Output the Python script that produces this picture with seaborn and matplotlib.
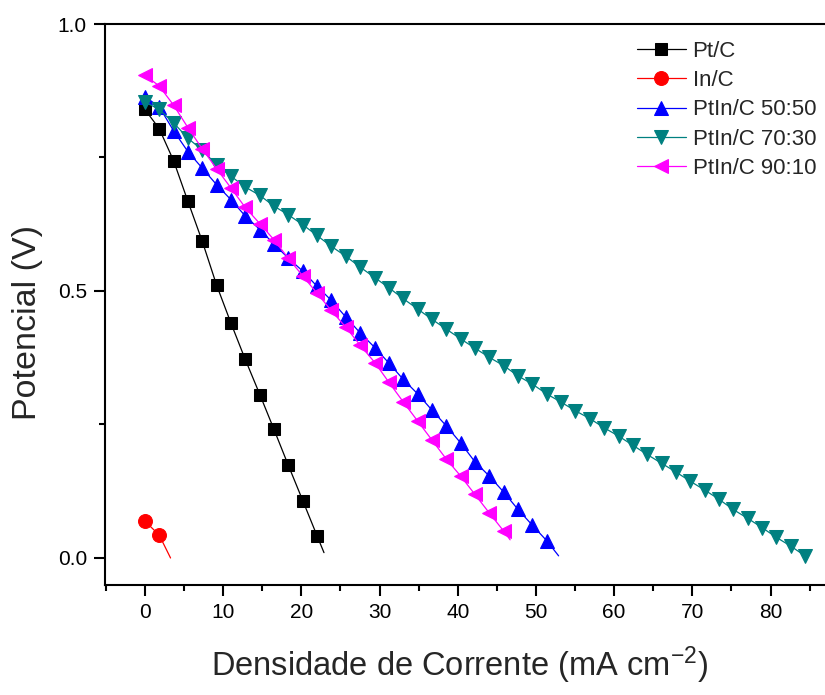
import matplotlib
matplotlib.use("Agg")
import matplotlib.pyplot as plt
from matplotlib.ticker import MultipleLocator, FormatStrFormatter
import seaborn as sns
import pandas as pd

# current density steps (mA cm^-2)
current = [0.0, 1.83, 3.67, 5.50, 7.34, 9.17, 11.0, 12.8, 14.7, 16.5, 18.3, 20.2,
           22.0, 23.8, 25.7, 27.5, 29.4, 31.2, 33.0, 34.9, 36.7, 38.5, 40.4, 42.2,
           44.0, 45.9, 47.7, 49.5, 51.4, 53.2, 55.0, 56.9, 58.7, 60.6, 62.4, 64.2,
           66.1, 67.9, 69.7, 71.6, 73.4, 75.2, 77.1, 78.9, 80.7, 82.6, 84.4]

labels = ["Pt/C", "In/C", "PtIn/C 50:50", "PtIn/C 70:30", "PtIn/C 90:10"]

pt_x = current[:13] + [22.9]
pt_y = [0.840, 0.804, 0.744, 0.668, 0.593, 0.511, 0.440, 0.373, 0.306, 0.241,
        0.175, 0.107, 0.042, 0.010]

in_x = [0.0, 1.83, 3.28]
in_y = [0.069, 0.043, 0.0]

p55_x = current[:29] + [52.9]
p55_y = [0.864, 0.845, 0.800, 0.761, 0.730, 0.699, 0.671, 0.641, 0.615, 0.588,
         0.562, 0.537, 0.509, 0.483, 0.451, 0.422, 0.394, 0.365, 0.335, 0.307,
         0.277, 0.248, 0.215, 0.180, 0.154, 0.123, 0.091, 0.062, 0.032, 0.004]

p73_x = current[:47]
p73_y = [0.854, 0.840, 0.815, 0.786, 0.764, 0.736, 0.715, 0.695, 0.679, 0.659,
         0.643, 0.624, 0.604, 0.584, 0.565, 0.545, 0.525, 0.506, 0.486, 0.466,
         0.447, 0.429, 0.410, 0.393, 0.376, 0.360, 0.341, 0.326, 0.307, 0.292,
         0.276, 0.261, 0.244, 0.228, 0.211, 0.194, 0.177, 0.161, 0.144, 0.127,
         0.110, 0.091, 0.074, 0.057, 0.039, 0.022, 0.004]

p91_x = current[:26] + [46.7]
p91_y = [0.904, 0.884, 0.848, 0.806, 0.766, 0.729, 0.693, 0.657, 0.626, 0.596,
         0.562, 0.528, 0.496, 0.464, 0.432, 0.399, 0.366, 0.329, 0.293, 0.256,
         0.221, 0.186, 0.153, 0.119, 0.085, 0.050, 0.034]

colors = ["#000000", "#ff0000", "#0000ff", "#008080", "#ff00ff"]
markers = ["s", "o", "^", "v", "<"]
msizes = [8.5, 10, 10, 10, 10]
# number of points carrying a marker (the line continues to the last point)
n_marked = [13, 2, 29, 47, 26]

sns.set_style("ticks")
plt.rcParams["font.family"] = ["Liberation Sans", "DejaVu Sans"]
plt.rcParams["mathtext.fontset"] = "custom"
plt.rcParams["mathtext.rm"] = "Liberation Sans"
plt.rcParams["mathtext.it"] = "Liberation Sans:italic"

fig = plt.figure(figsize=(8.25, 6.95), dpi=100)
ax = fig.add_axes([105 / 825, 1 - 585 / 695, (830 - 105) / 825, (585 - 24) / 695])

series = [(pt_x, pt_y), (in_x, in_y), (p55_x, p55_y), (p73_x, p73_y), (p91_x, p91_y)]
for (xs, ys), lab, c, m, ms, nm in zip(series, labels, colors, markers, msizes, n_marked):
    df = pd.DataFrame({"x": xs, "y": ys})
    sns.lineplot(data=df, x="x", y="y", ax=ax, color=c, marker=m, markersize=ms,
                 markeredgecolor=c, linewidth=0.9, label=lab,
                 markevery=list(range(nm)), sort=False)

ax.set_xlim(-5.1, 87.6)
ax.set_ylim(-0.0506, 1.0)
ax.xaxis.set_major_locator(MultipleLocator(10))
ax.xaxis.set_minor_locator(MultipleLocator(5))
ax.yaxis.set_major_locator(MultipleLocator(0.5))
ax.yaxis.set_minor_locator(MultipleLocator(0.25))
ax.yaxis.set_major_formatter(FormatStrFormatter("%.1f"))

for s in ["left", "bottom", "top"]:
    ax.spines[s].set_linewidth(1.5)
    ax.spines[s].set_color("black")
ax.spines["right"].set_visible(False)
ax.spines["top"].set_visible(True)

ax.tick_params(which="major", direction="out", length=8, width=1.5,
               labelsize=15, colors="black", pad=5)
ax.tick_params(which="minor", direction="out", length=4.5, width=1.5, colors="black")
ax.tick_params(top=False, right=False, which="both")

ax.set_xlabel("Densidade de Corrente (mA cm$^{-2}$)", fontsize=23.5)
ax.set_ylabel("Potencial (V)", fontsize=24.5)
ax.xaxis.set_label_coords((459.5 - 105) / 725, -(645 - 585) / 561)
ax.yaxis.set_label_coords((43 - 105) / 725, 1 - (322 - 24) / 561)

leg = ax.legend(loc="upper left", bbox_to_anchor=(637 / 825, 1 - 41 / 695),
                bbox_transform=fig.transFigure, frameon=False, fontsize=16,
                handlelength=2.2, handletextpad=0.3, labelspacing=0.37,
                borderpad=0, borderaxespad=0)

fig.savefig("out.png", dpi=100)
